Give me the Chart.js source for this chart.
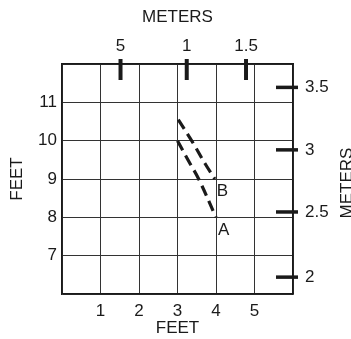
<!DOCTYPE html>
<html>
<head>
<meta charset="utf-8">
<script src="https://cdn.jsdelivr.net/npm/chart.js@4/dist/chart.umd.min.js"></script>
<style>
  html, body { margin: 0; padding: 0; background: #fff; }
</style>
</head>
<body>
<canvas id="chart" width="351" height="339"></canvas>
<script>
// two dashed curves, in feet
const seriesNames = ["A", "B"];
const curveX = [[3, 3.27, 3.55, 4], [3.02, 3.41, 3.71, 3.97]];
const curveY = [[10, 9.5, 9, 8], [10.55, 9.93, 9.41, 9]];

// feet axes
const xTickLabels = [1, 2, 3, 4, 5];
const yTickLabels = [7, 8, 9, 10, 11];

// meter marks, placed at their feet positions
const meterTopAt = [1.52, 3.24, 4.78];
const meterTopLabels = ["5", "1", "1.5"];
const meterRightAt = [11.39, 9.76, 8.14, 6.44];
const meterRightLabels = ["3.5", "3", "2.5", "2"];

const INK = "#1a1a1a";
Chart.defaults.font.family = "'Liberation Sans', Arial, sans-serif";
Chart.defaults.font.size = 17;
Chart.defaults.color = INK;

const datasets = seriesNames.map((name, i) => ({
  label: name,
  data: curveX[i].map((x, j) => ({ x: x, y: curveY[i][j] })),
  showLine: true,
  borderColor: INK,
  borderWidth: 3.2,
  borderDash: [11, 6],
  tension: 0.4,
  pointRadius: 0,
  xAxisID: "x",
  yAxisID: "y",
}));

const extras = {
  id: "extras",
  afterDraw(chart) {
    const ctx = chart.ctx;
    const area = chart.chartArea;
    const top = chart.scales.x2;
    const right = chart.scales.y2;
    ctx.save();
    ctx.strokeStyle = INK;
    ctx.lineCap = "butt";
    ctx.lineWidth = 4;
    top.ticks.forEach((t) => {
      const px = top.getPixelForValue(t.value);
      ctx.beginPath();
      ctx.moveTo(px, area.top - 5);
      ctx.lineTo(px, area.top + 16);
      ctx.stroke();
    });
    ctx.lineWidth = 3.5;
    right.ticks.forEach((t) => {
      const py = right.getPixelForValue(t.value);
      ctx.beginPath();
      ctx.moveTo(area.right - 17, py);
      ctx.lineTo(area.right + 5, py);
      ctx.stroke();
    });

    ctx.fillStyle = INK;
    ctx.font = "17px 'Liberation Sans', Arial, sans-serif";
    // curve names next to their end points
    ctx.textAlign = "left";
    ctx.textBaseline = "top";
    chart.data.datasets.forEach((ds, i) => {
      const pts = chart.getDatasetMeta(i).data;
      const last = pts[pts.length - 1];
      ctx.fillText(seriesNames[i], last.x + 2, last.y + 4);
    });

    // right axis title, reading upwards
    ctx.translate(347, (area.top + area.bottom) / 2 + 4);
    ctx.rotate(-Math.PI / 2);
    ctx.textAlign = "center";
    ctx.textBaseline = "middle";
    ctx.fillText("METERS", 0, 0);
    ctx.restore();
  },
};

new Chart(document.getElementById("chart"), {
  type: "scatter",
  data: { datasets: datasets },
  options: {
    responsive: false,
    animation: false,
    layout: { padding: 0 },
    plugins: { legend: { display: false }, tooltip: { enabled: false } },
    scales: {
      x: {
        type: "linear",
        position: "bottom",
        min: 0,
        max: 6,
        afterFit: (s) => { s.height = 45; },
        ticks: {
          stepSize: 1,
          padding: 7,
          callback: (v) => (xTickLabels.includes(v) ? String(v) : ""),
        },
        grid: { color: "#333", lineWidth: 1, drawTicks: false },
        border: { color: INK, width: 1.5 },
        title: { display: true, text: "FEET", padding: { top: 0, bottom: 0 } },
      },
      y: {
        type: "linear",
        position: "left",
        min: 6,
        max: 12,
        afterFit: (s) => { s.width = 62; },
        ticks: {
          stepSize: 1,
          padding: 5,
          callback: (v) => (yTickLabels.includes(v) ? String(v) : ""),
        },
        grid: { color: "#333", lineWidth: 1, drawTicks: false },
        border: { color: INK, width: 1.5 },
        title: { display: true, text: "FEET", padding: { top: 7, bottom: 0 } },
      },
      x2: {
        type: "linear",
        position: "top",
        min: 0,
        max: 6,
        afterFit: (s) => { s.height = 64; },
        afterBuildTicks: (s) => { s.ticks = meterTopAt.map((v) => ({ value: v })); },
        ticks: {
          autoSkip: false,
          maxRotation: 0,
          padding: 7,
          callback: (v, i) => meterTopLabels[i],
        },
        grid: { drawOnChartArea: false, drawTicks: false },
        border: { color: INK, width: 1.5 },
        title: { display: true, text: "METERS", padding: { top: 7, bottom: 0 } },
      },
      y2: {
        type: "linear",
        position: "right",
        min: 6,
        max: 12,
        afterFit: (s) => { s.width = 58; },
        afterBuildTicks: (s) => { s.ticks = meterRightAt.map((v) => ({ value: v })); },
        ticks: {
          autoSkip: false,
          padding: 12,
          callback: (v, i) => meterRightLabels[i],
        },
        grid: { drawOnChartArea: false, drawTicks: false },
        border: { color: INK, width: 1.5 },
      },
    },
  },
  plugins: [extras],
});
</script>
</body>
</html>
